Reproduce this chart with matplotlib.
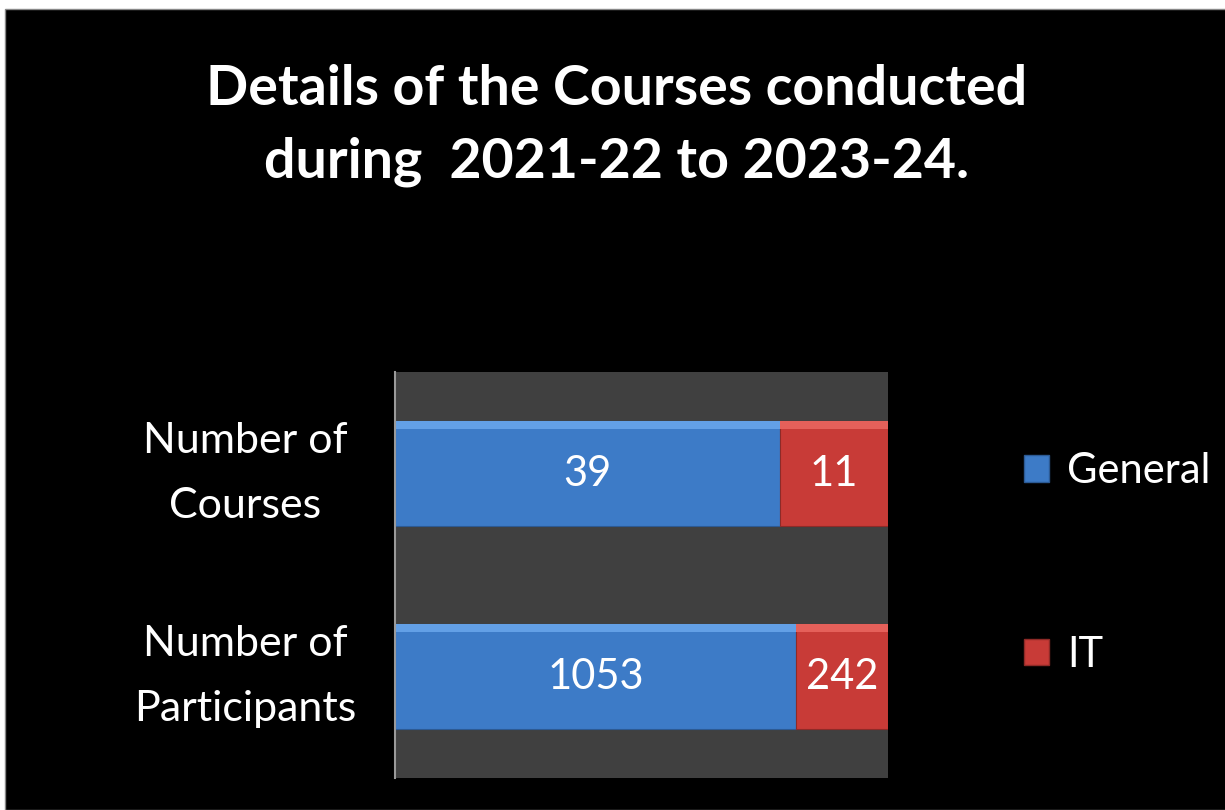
import matplotlib
matplotlib.use("Agg")
import matplotlib.pyplot as plt
from matplotlib.patches import Rectangle
import numpy as np

# data
categories = ["Number of\nParticipants", "Number of\nCourses"]
general = [1053, 39]
it = [242, 11]
series_names = ["General", "IT"]
title = "Details of the Courses conducted\nduring  2021-22 to 2023-24."

blue = "#3d7bc7"
red = "#c83b37"

plt.rcParams["font.family"] = ["Lato", "DejaVu Sans"]

fig = plt.figure(figsize=(12.25, 8.1), dpi=100, facecolor="white")
# black chart area with thin white margin on top/left
fig.patches.append(Rectangle((5 / 1225, 0), 1, 1 - 9 / 810, transform=fig.transFigure,
                             facecolor="black", edgecolor="#888888", lw=1, zorder=-10))

ax = fig.add_axes([0.3224, 0.0395, 0.4025, 0.501])
ax.set_facecolor("#404040")

g = np.array(general, dtype=float)
t = np.array(it, dtype=float)
tot = g + t
gf = g / tot
tf = t / tot
y = np.arange(len(categories))

hb = 0.52
ax.barh(y, gf, height=hb, color=blue, edgecolor="#2c5a94", lw=0.8, label=series_names[0])
ax.barh(y, tf, left=gf, height=hb, color=red, edgecolor="#8e2a27", lw=0.8, label=series_names[1])
# bevel: light top edge
ax.barh(y + hb / 2 - 0.02, gf, height=0.04, color="#63a0e6", lw=0)
ax.barh(y + hb / 2 - 0.02, tf, left=gf, height=0.04, color="#e5605a", lw=0)

for i in range(len(y)):
    ax.text(gf[i] / 2, y[i], str(general[i]), color="white", fontsize=30,
            ha="center", va="center")
    ax.text(gf[i] + tf[i] / 2, y[i], str(it[i]), color="white", fontsize=30,
            ha="center", va="center")

ax.set_xlim(0, 1)
ax.set_ylim(-0.5, 1.5)
ax.set_xticks([])
ax.set_yticks(y)
ax.set_yticklabels(categories, color="white", fontsize=31, ha="center",
                   linespacing=1.85)
for lab in ax.get_yticklabels():
    lab.set_va("center")
ax.tick_params(axis="y", length=0, pad=108)
for s in ["top", "right", "bottom"]:
    ax.spines[s].set_visible(False)
ax.spines["left"].set_color("#9a9a9a")
ax.spines["left"].set_linewidth(1.5)

# legend
h1 = Rectangle((0, 0), 1, 1, facecolor=blue, edgecolor="#2c5a94")
h2 = Rectangle((0, 0), 1, 1, facecolor=red, edgecolor="#8e2a27")
leg = fig.legend([h1, h2], series_names, loc="center left",
                 bbox_to_anchor=(0.805, 0.305), frameon=False, fontsize=30,
                 labelcolor="white", handlelength=0.6, handleheight=0.6,
                 handletextpad=0.45, labelspacing=3.5)

fig.text(0.503, 0.845, title, color="white", fontsize=40, fontweight="bold",
         ha="center", va="center", linespacing=1.55)

fig.savefig("out.png", dpi=100, facecolor=fig.get_facecolor())
